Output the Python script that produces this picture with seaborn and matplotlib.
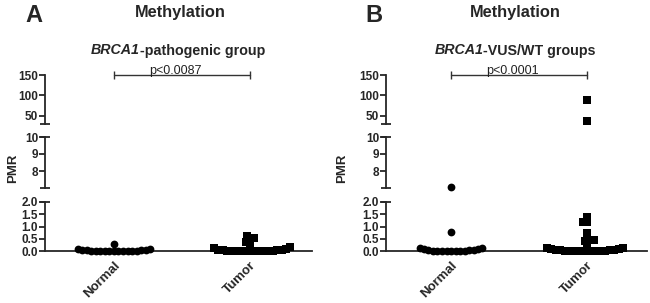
import matplotlib
matplotlib.use("Agg")
import matplotlib.pyplot as plt
import pandas as pd
import seaborn as sns

# categories
groups = ["Normal", "Tumor"]

# PMR values (panel A: BRCA1-pathogenic, panel B: BRCA1-VUS/WT)
a_normal = [0.0, 0.0, 0.0, 0.0, 0.0, 0.01, 0.01, 0.01, 0.02, 0.02,
            0.02, 0.03, 0.03, 0.04, 0.05, 0.07, 0.09, 0.3]
a_tumor = [0.0, 0.0, 0.0, 0.0, 0.0, 0.01, 0.01, 0.01, 0.02, 0.02,
           0.02, 0.03, 0.03, 0.04, 0.05, 0.07, 0.12, 0.15, 0.25, 0.36,
           0.46, 0.53, 0.6]
b_normal = [0.0, 0.0, 0.0, 0.0, 0.01, 0.01, 0.02, 0.02,
            0.03, 0.04, 0.06, 0.08, 0.1, 0.12, 0.14, 0.78, 7.05]
b_tumor = [0.0, 0.0, 0.0, 0.0, 0.0, 0.01, 0.01, 0.01, 0.02, 0.02,
           0.03, 0.03, 0.04, 0.06, 0.08, 0.1, 0.12, 0.14, 0.25, 0.4,
           0.45, 0.45, 0.72, 1.18, 1.2, 1.38, 37.0, 88.0]

panel_letters = ["A", "B"]
panel_genes = ["BRCA1", "BRCA1"]
panel_subtitles = ["-pathogenic group", "-VUS/WT groups"]
p_labels = ["p<0.0087", "p<0.0001"]

# broken y axis, top to bottom: view limits, spine span, tick values, tick labels
seg_limits = [(22, 150), (6.7, 10), (-0.2, 2)]
seg_spans = [(30, 150), (7, 10), (0, 2)]
seg_ticks = [[50, 100, 150], [8, 9, 10], [0, 0.5, 1, 1.5, 2]]
seg_labels = [["50", "100", "150"], ["8", "9", "10"],
              ["0.0", "0.5", "1.0", "1.5", "2.0"]]
seg_breaks = [[30], [7, 10], [2]]

W, H = 650, 303
seg_px = [(75, 127.3), (137, 193.1), (202, 255.9)]      # top, bottom (pixels)
panel_px = [(45, 312), (386, 647)]                      # left, right (pixels)
panel_xlim = [(-0.507, 1.456), (-0.478, 1.44)]
bracket_y = 149
swarm_size = 3.1     # spacing used for the swarm layout (pt)
dot_size = 5.6       # drawn marker size (pt), dots overlap like GraphPad

sns.set_style("ticks")
plt.rcParams["font.family"] = ["Liberation Sans", "DejaVu Sans"]
plt.rcParams["axes.linewidth"] = 1.3


def box(left, right, top, bottom):
    return [left / W, 1 - bottom / H, (right - left) / W, (bottom - top) / H]


def long_frame(normal, tumor):
    return pd.DataFrame({
        "group": ["Normal"] * len(normal) + ["Tumor"] * len(tumor),
        "PMR": list(normal) + list(tumor),
    })


def mixed_title(fig, cx, y_px, gene, rest, size):
    r = fig.canvas.get_renderer()
    y = 1 - y_px / H
    t1 = fig.text(0, y, gene, style="italic", weight="bold", size=size, va="baseline")
    t2 = fig.text(0, y, rest, weight="bold", size=size, va="baseline")
    w1 = t1.get_window_extent(r).width / fig.bbox.width
    w2 = t2.get_window_extent(r).width / fig.bbox.width
    x0 = cx / W - (w1 + w2) / 2
    t1.set_x(x0)
    t2.set_x(x0 + w1)


fig = plt.figure(figsize=(W / 100, H / 100), dpi=100)

panels = [long_frame(a_normal, a_tumor), long_frame(b_normal, b_tumor)]
title_cx = [180, 515]
sub_cx = [178, 515]
letter_x = [25, 365]
ylabel_x = [13, 342]

for p, df in enumerate(panels):
    left, right = panel_px[p]
    for s in range(3):
        ax = fig.add_axes(box(left, right, *seg_px[s]))
        ax.patch.set_alpha(0)
        for grp, mk in zip(groups, ["o", "s"]):
            sns.swarmplot(data=df[df["group"] == grp], x="group", y="PMR",
                          order=groups, color="black", marker=mk, size=swarm_size,
                          linewidth=0, ax=ax)
        ax.set_xlim(*panel_xlim[p])
        ax.set_ylim(*seg_limits[s])
        ax.set_ylabel("")
        ax.set_xlabel("")
        ax.spines["top"].set_visible(False)
        ax.spines["right"].set_visible(False)
        ax.spines["left"].set_bounds(*seg_spans[s])
        ax.set_yticks(seg_ticks[s])
        ax.set_yticklabels(seg_labels[s], fontweight="bold", fontsize=8.5)
        ax.tick_params(axis="y", which="major", length=4, width=1.3, pad=1)
        # break marks at the segment ends
        ax.yaxis.remove_overlapping_locs = False
        ax.set_yticks(seg_breaks[s], minor=True)
        ax.tick_params(axis="y", which="minor", direction="inout", length=7, width=1.3)
        if s < 2:
            ax.spines["bottom"].set_visible(False)
            ax.tick_params(axis="x", bottom=False, labelbottom=False)
        else:
            ax.spines["bottom"].set_position(("data", 0))
            ax.set_xticks(range(len(groups)))
            ax.set_xticklabels(groups, rotation=45, ha="right", va="top",
                               rotation_mode="anchor", fontweight="bold", fontsize=9.5)
            ax.tick_params(axis="x", length=3, width=1.3, pad=3)
        if s == 0:
            x0, x1 = 0, len(groups) - 1
            ax.plot([x0, x1], [bracket_y, bracket_y], color="#333333", lw=1,
                    marker="|", markersize=6, markeredgewidth=1, clip_on=False)
            ax.text((x0 + x1) / 2 - 0.05, bracket_y + 3, p_labels[p], ha="center",
                    va="baseline", fontsize=9, color="#222222")

    fig.text(letter_x[p] / W, 1 - 22 / H, panel_letters[p], fontsize=17,
             fontweight="bold", ha="left", va="baseline")
    fig.text(title_cx[p] / W, 1 - 17.5 / H, "Methylation", fontsize=11.8,
             fontweight="bold", ha="center", va="baseline")
    mixed_title(fig, sub_cx[p], 54.5, panel_genes[p], panel_subtitles[p], 10.3)
    fig.text(ylabel_x[p] / W, 1 - 168 / H, "PMR", rotation=90, fontsize=9.5,
             fontweight="bold", ha="center", va="center")

# lay the swarms out once, then keep those positions and draw the dots larger
fig.canvas.draw()
for ax in fig.axes:
    for coll in ax.collections:
        if "draw" in coll.__dict__:
            del coll.draw
        coll.set_sizes([dot_size ** 2])

fig.savefig("out.png", dpi=100)
